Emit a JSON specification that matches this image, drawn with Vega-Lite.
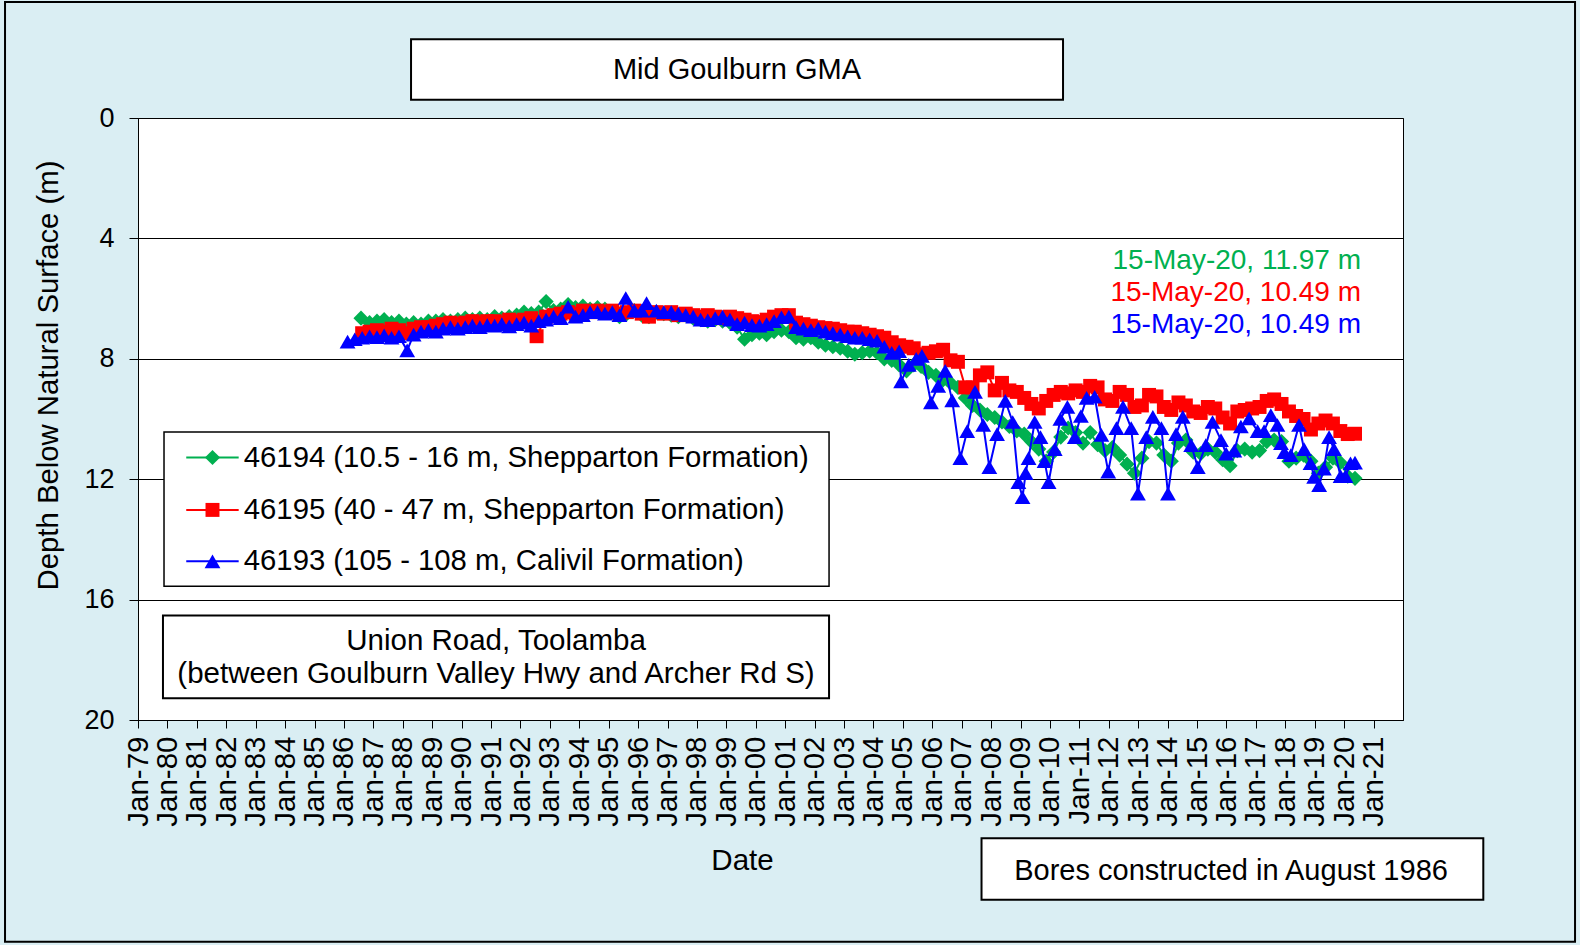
{
"$schema": "https://vega.github.io/schema/vega-lite/v6.json",
"width": 1265, "height": 602,
"autosize": {"type": "none"},
"padding": {"left": 138, "top": 118, "right": 177, "bottom": 225},
"background": "#DAEEF3",
"config": {"font": "Liberation Sans", "view": {"fill": "white", "stroke": "black", "strokeWidth": 1}, "text": {"color": "black"},
 "axisX": {"labelOverlap": false, "labelExpr": "utcFormat(datum.value, '%b-%y')", "labelAngle": -90, "labelFontSize": 29.5, "labelFlush": false, "labelBound": false, "tickCount": 60}},
"data": {"values": [{}]},
"datasets": {
"g": [
{"date":"1986-08-01","depth":6.65},{"date":"1986-11-15","depth":6.8},{"date":"1987-02-15","depth":6.75},{"date":"1987-05-15","depth":6.7},{"date":"1987-08-15","depth":6.8},{"date":"1987-11-15","depth":6.75},
{"date":"1988-02-15","depth":6.85},{"date":"1988-05-15","depth":6.8},{"date":"1988-08-15","depth":6.85},{"date":"1988-11-15","depth":6.75},
{"date":"1989-02-15","depth":6.75},{"date":"1989-05-15","depth":6.7},{"date":"1989-08-15","depth":6.75},{"date":"1989-11-15","depth":6.7},
{"date":"1990-02-15","depth":6.65},{"date":"1990-05-15","depth":6.7},{"date":"1990-08-15","depth":6.65},{"date":"1990-11-15","depth":6.7},
{"date":"1991-02-15","depth":6.6},{"date":"1991-05-15","depth":6.65},{"date":"1991-08-15","depth":6.6},{"date":"1991-11-15","depth":6.55},
{"date":"1992-02-15","depth":6.45},{"date":"1992-05-15","depth":6.5},{"date":"1992-08-15","depth":6.45},{"date":"1992-11-15","depth":6.1},
{"date":"1993-02-15","depth":6.4},{"date":"1993-05-15","depth":6.35},{"date":"1993-08-15","depth":6.2},{"date":"1993-11-15","depth":6.3},
{"date":"1994-02-15","depth":6.25},{"date":"1994-05-15","depth":6.35},{"date":"1994-08-15","depth":6.3},{"date":"1994-11-15","depth":6.35},
{"date":"1995-02-15","depth":6.45},{"date":"1995-05-15","depth":6.6},{"date":"1995-08-15","depth":6.5},{"date":"1995-11-15","depth":6.4},
{"date":"1996-02-15","depth":6.55},{"date":"1996-05-15","depth":6.6},{"date":"1996-08-15","depth":6.45},{"date":"1996-11-15","depth":6.5},
{"date":"1997-02-15","depth":6.55},{"date":"1997-05-15","depth":6.6},{"date":"1997-08-15","depth":6.55},{"date":"1997-11-15","depth":6.65},
{"date":"1998-02-15","depth":6.7},{"date":"1998-05-15","depth":6.75},{"date":"1998-08-15","depth":6.7},{"date":"1998-11-15","depth":6.75},
{"date":"1999-02-15","depth":6.8},{"date":"1999-05-15","depth":6.95},{"date":"1999-08-15","depth":7.35},{"date":"1999-11-15","depth":7.2},
{"date":"2000-02-15","depth":7.15},{"date":"2000-05-15","depth":7.2},{"date":"2000-08-15","depth":7.1},{"date":"2000-11-15","depth":7.05},
{"date":"2001-02-15","depth":7.1},{"date":"2001-05-15","depth":7.3},{"date":"2001-08-15","depth":7.35},{"date":"2001-11-15","depth":7.3},
{"date":"2002-02-15","depth":7.45},{"date":"2002-05-15","depth":7.55},{"date":"2002-08-15","depth":7.6},{"date":"2002-11-15","depth":7.65},
{"date":"2003-02-15","depth":7.75},{"date":"2003-05-15","depth":7.85},{"date":"2003-08-15","depth":7.8},{"date":"2003-11-15","depth":7.75},
{"date":"2004-02-15","depth":7.8},{"date":"2004-05-15","depth":8.0},{"date":"2004-08-15","depth":8.05},{"date":"2004-11-15","depth":8.2},
{"date":"2005-02-15","depth":8.4},{"date":"2005-05-15","depth":8.2},{"date":"2005-08-15","depth":8.25},{"date":"2005-11-15","depth":8.45},
{"date":"2006-02-15","depth":8.55},{"date":"2006-05-15","depth":8.7},{"date":"2006-08-15","depth":8.8},{"date":"2006-11-15","depth":8.95},
{"date":"2007-02-15","depth":9.3},{"date":"2007-05-15","depth":9.55},{"date":"2007-08-15","depth":9.7},{"date":"2007-11-15","depth":9.85},
{"date":"2008-02-15","depth":9.95},{"date":"2008-05-15","depth":10.1},{"date":"2008-08-15","depth":10.25},{"date":"2008-11-15","depth":10.4},
{"date":"2009-02-15","depth":10.5},{"date":"2009-05-15","depth":10.75},{"date":"2009-08-15","depth":11.0},{"date":"2009-11-15","depth":11.4},
{"date":"2010-02-15","depth":11.1},{"date":"2010-05-15","depth":10.6},{"date":"2010-08-15","depth":10.3},{"date":"2010-11-15","depth":10.45},
{"date":"2011-02-15","depth":10.8},{"date":"2011-05-15","depth":10.45},{"date":"2011-08-15","depth":10.85},{"date":"2011-11-15","depth":11.05},
{"date":"2012-02-15","depth":10.95},{"date":"2012-05-15","depth":11.2},{"date":"2012-08-15","depth":11.5},{"date":"2012-11-15","depth":11.8},
{"date":"2013-02-15","depth":11.3},{"date":"2013-05-15","depth":10.75},{"date":"2013-08-15","depth":10.8},{"date":"2013-11-15","depth":11.2},
{"date":"2014-02-15","depth":11.4},{"date":"2014-05-15","depth":10.8},{"date":"2014-08-15","depth":10.7},{"date":"2014-11-15","depth":11.1},
{"date":"2015-02-15","depth":11.15},{"date":"2015-05-15","depth":11.0},{"date":"2015-08-15","depth":11.1},{"date":"2015-11-15","depth":11.35},
{"date":"2016-02-15","depth":11.55},{"date":"2016-05-15","depth":11.05},{"date":"2016-08-15","depth":11.0},{"date":"2016-11-15","depth":11.1},
{"date":"2017-02-15","depth":11.05},{"date":"2017-05-15","depth":10.75},{"date":"2017-08-15","depth":10.7},{"date":"2017-11-15","depth":10.75},
{"date":"2018-02-15","depth":11.4},{"date":"2018-05-15","depth":11.3},{"date":"2018-08-15","depth":11.2},{"date":"2018-11-15","depth":11.4},
{"date":"2019-02-15","depth":11.8},{"date":"2019-05-15","depth":11.6},{"date":"2019-08-15","depth":11.3},{"date":"2019-11-15","depth":11.45},
{"date":"2020-02-15","depth":11.9},{"date":"2020-05-15","depth":11.97}
],
"r": [
{"date":"1986-08-15","depth":7.15},{"date":"1986-11-15","depth":7.1},{"date":"1987-02-15","depth":7.05},{"date":"1987-05-15","depth":7.1},{"date":"1987-08-15","depth":7.0},{"date":"1987-11-15","depth":7.05},
{"date":"1988-02-15","depth":7.15},{"date":"1988-05-15","depth":7.0},{"date":"1988-08-15","depth":6.95},{"date":"1988-11-15","depth":6.95},
{"date":"1989-02-15","depth":6.9},{"date":"1989-05-15","depth":6.85},{"date":"1989-08-15","depth":6.8},{"date":"1989-11-15","depth":6.85},
{"date":"1990-02-15","depth":6.8},{"date":"1990-05-15","depth":6.75},{"date":"1990-08-15","depth":6.8},{"date":"1990-11-15","depth":6.75},
{"date":"1991-02-15","depth":6.75},{"date":"1991-05-15","depth":6.8},{"date":"1991-08-15","depth":6.7},{"date":"1991-11-15","depth":6.75},
{"date":"1992-02-15","depth":6.7},{"date":"1992-05-15","depth":6.65},{"date":"1992-07-20","depth":7.25},{"date":"1992-11-15","depth":6.6},
{"date":"1993-02-15","depth":6.55},{"date":"1993-05-15","depth":6.5},{"date":"1993-08-15","depth":6.45},{"date":"1993-11-15","depth":6.5},
{"date":"1994-02-15","depth":6.4},{"date":"1994-05-15","depth":6.45},{"date":"1994-08-15","depth":6.4},{"date":"1994-11-15","depth":6.45},
{"date":"1995-02-15","depth":6.4},{"date":"1995-05-15","depth":6.5},{"date":"1995-08-15","depth":6.45},{"date":"1995-11-15","depth":6.4},
{"date":"1996-02-15","depth":6.5},{"date":"1996-05-15","depth":6.6},{"date":"1996-08-15","depth":6.45},{"date":"1996-11-15","depth":6.5},
{"date":"1997-02-15","depth":6.45},{"date":"1997-05-15","depth":6.55},{"date":"1997-08-15","depth":6.5},{"date":"1997-11-15","depth":6.55},
{"date":"1998-02-15","depth":6.6},{"date":"1998-05-15","depth":6.55},{"date":"1998-08-15","depth":6.6},{"date":"1998-11-15","depth":6.65},
{"date":"1999-02-15","depth":6.6},{"date":"1999-05-15","depth":6.65},{"date":"1999-08-15","depth":6.7},{"date":"1999-11-15","depth":6.75},
{"date":"2000-02-15","depth":6.78},{"date":"2000-05-15","depth":6.7},{"date":"2000-08-15","depth":6.6},{"date":"2000-11-15","depth":6.55},
{"date":"2001-02-15","depth":6.55},{"date":"2001-05-15","depth":6.8},{"date":"2001-08-15","depth":6.85},{"date":"2001-11-15","depth":6.9},
{"date":"2002-02-15","depth":6.95},{"date":"2002-05-15","depth":6.98},{"date":"2002-08-15","depth":7.0},{"date":"2002-11-15","depth":7.05},
{"date":"2003-02-15","depth":7.1},{"date":"2003-05-15","depth":7.1},{"date":"2003-08-15","depth":7.15},{"date":"2003-11-15","depth":7.2},
{"date":"2004-02-15","depth":7.25},{"date":"2004-05-15","depth":7.3},{"date":"2004-08-15","depth":7.45},{"date":"2004-11-15","depth":7.55},
{"date":"2005-02-15","depth":7.6},{"date":"2005-05-15","depth":7.65},{"date":"2005-08-15","depth":7.85},{"date":"2005-11-15","depth":7.8},
{"date":"2006-02-15","depth":7.75},{"date":"2006-05-15","depth":7.7},{"date":"2006-08-15","depth":8.05},{"date":"2006-11-15","depth":8.1},
{"date":"2007-02-15","depth":8.95},{"date":"2007-05-15","depth":8.95},{"date":"2007-08-15","depth":8.55},{"date":"2007-11-15","depth":8.45},
{"date":"2008-02-15","depth":9.05},{"date":"2008-05-15","depth":8.8},{"date":"2008-08-15","depth":9.05},{"date":"2008-11-15","depth":9.1},
{"date":"2009-02-15","depth":9.3},{"date":"2009-05-15","depth":9.5},{"date":"2009-08-15","depth":9.65},{"date":"2009-11-15","depth":9.4},
{"date":"2010-02-15","depth":9.2},{"date":"2010-05-15","depth":9.1},{"date":"2010-08-15","depth":9.15},{"date":"2010-11-15","depth":9.05},
{"date":"2011-02-15","depth":9.1},{"date":"2011-05-15","depth":8.9},{"date":"2011-08-15","depth":8.95},{"date":"2011-11-15","depth":9.35},
{"date":"2012-02-15","depth":9.4},{"date":"2012-05-15","depth":9.1},{"date":"2012-08-15","depth":9.2},{"date":"2012-11-15","depth":9.6},
{"date":"2013-02-15","depth":9.55},{"date":"2013-05-15","depth":9.2},{"date":"2013-08-15","depth":9.25},{"date":"2013-11-15","depth":9.6},
{"date":"2014-02-15","depth":9.7},{"date":"2014-05-15","depth":9.45},{"date":"2014-08-15","depth":9.55},{"date":"2014-11-15","depth":9.75},
{"date":"2015-02-15","depth":9.8},{"date":"2015-05-15","depth":9.6},{"date":"2015-08-15","depth":9.65},{"date":"2015-11-15","depth":9.95},
{"date":"2016-02-15","depth":10.15},{"date":"2016-05-15","depth":9.75},{"date":"2016-08-15","depth":9.7},{"date":"2016-11-15","depth":9.65},
{"date":"2017-02-15","depth":9.6},{"date":"2017-05-15","depth":9.4},{"date":"2017-08-15","depth":9.35},{"date":"2017-11-15","depth":9.5},
{"date":"2018-02-15","depth":9.75},{"date":"2018-05-15","depth":9.9},{"date":"2018-08-15","depth":10.0},{"date":"2018-11-15","depth":10.35},
{"date":"2019-02-15","depth":10.15},{"date":"2019-05-15","depth":10.05},{"date":"2019-08-15","depth":10.15},{"date":"2019-11-15","depth":10.4},
{"date":"2020-02-15","depth":10.5},{"date":"2020-05-15","depth":10.49}
],
"b": [
{"date":"1986-02-15","depth":7.43},{"date":"1986-05-15","depth":7.35},{"date":"1986-08-15","depth":7.3},{"date":"1986-11-15","depth":7.25},
{"date":"1987-02-15","depth":7.28},{"date":"1987-05-15","depth":7.22},{"date":"1987-08-15","depth":7.3},{"date":"1987-11-15","depth":7.25},
{"date":"1988-02-25","depth":7.72},{"date":"1988-05-15","depth":7.2},{"date":"1988-08-15","depth":7.1},{"date":"1988-11-15","depth":7.05},
{"date":"1989-02-15","depth":7.1},{"date":"1989-05-15","depth":7.0},{"date":"1989-08-15","depth":6.95},{"date":"1989-11-15","depth":7.0},
{"date":"1990-02-15","depth":6.95},{"date":"1990-05-15","depth":6.9},{"date":"1990-08-15","depth":6.95},{"date":"1990-11-15","depth":6.88},
{"date":"1991-02-15","depth":6.9},{"date":"1991-05-15","depth":6.85},{"date":"1991-08-15","depth":6.92},{"date":"1991-11-15","depth":6.85},
{"date":"1992-02-15","depth":6.8},{"date":"1992-05-15","depth":6.9},{"date":"1992-08-15","depth":6.75},{"date":"1992-11-15","depth":6.7},
{"date":"1993-02-15","depth":6.6},{"date":"1993-05-15","depth":6.65},{"date":"1993-08-15","depth":6.27},{"date":"1993-11-15","depth":6.6},
{"date":"1994-02-15","depth":6.55},{"date":"1994-05-15","depth":6.45},{"date":"1994-08-15","depth":6.45},{"date":"1994-11-15","depth":6.5},
{"date":"1995-02-15","depth":6.45},{"date":"1995-05-15","depth":6.55},{"date":"1995-08-01","depth":5.98},{"date":"1995-11-15","depth":6.4},
{"date":"1996-02-15","depth":6.4},{"date":"1996-04-15","depth":6.15},{"date":"1996-08-15","depth":6.4},{"date":"1996-11-15","depth":6.45},
{"date":"1997-02-15","depth":6.45},{"date":"1997-05-15","depth":6.5},{"date":"1997-08-15","depth":6.55},{"date":"1997-11-15","depth":6.6},
{"date":"1998-02-15","depth":6.7},{"date":"1998-05-15","depth":6.72},{"date":"1998-08-15","depth":6.65},{"date":"1998-11-15","depth":6.6},
{"date":"1999-02-15","depth":6.7},{"date":"1999-05-15","depth":6.85},{"date":"1999-08-15","depth":6.8},{"date":"1999-11-15","depth":6.88},
{"date":"2000-02-15","depth":6.9},{"date":"2000-05-15","depth":6.85},{"date":"2000-08-15","depth":6.75},{"date":"2000-11-15","depth":6.62},
{"date":"2001-02-15","depth":6.6},{"date":"2001-05-15","depth":6.95},{"date":"2001-08-15","depth":7.0},{"date":"2001-11-15","depth":7.05},
{"date":"2002-02-15","depth":7.0},{"date":"2002-05-15","depth":7.1},{"date":"2002-08-15","depth":7.15},{"date":"2002-11-15","depth":7.2},
{"date":"2003-02-15","depth":7.25},{"date":"2003-05-15","depth":7.3},{"date":"2003-08-15","depth":7.3},{"date":"2003-11-15","depth":7.35},
{"date":"2004-02-15","depth":7.4},{"date":"2004-05-15","depth":7.6},{"date":"2004-08-15","depth":7.8},{"date":"2004-11-15","depth":7.75},
{"date":"2004-12-10","depth":8.75},{"date":"2005-03-15","depth":8.2},{"date":"2005-06-15","depth":8.0},{"date":"2005-08-25","depth":7.9},
{"date":"2005-12-15","depth":9.45},{"date":"2006-03-15","depth":8.9},{"date":"2006-06-10","depth":8.4},{"date":"2006-09-05","depth":9.38},
{"date":"2006-12-15","depth":11.3},{"date":"2007-03-10","depth":10.4},{"date":"2007-06-15","depth":9.1},{"date":"2007-09-25","depth":10.2},
{"date":"2007-12-10","depth":11.6},{"date":"2008-03-15","depth":10.5},{"date":"2008-06-25","depth":9.4},{"date":"2008-09-25","depth":10.1},
{"date":"2008-12-05","depth":12.1},{"date":"2009-01-25","depth":12.6},{"date":"2009-03-05","depth":11.8},{"date":"2009-04-10","depth":11.3},
{"date":"2009-06-25","depth":10.1},{"date":"2009-09-05","depth":10.6},{"date":"2009-10-25","depth":11.4},{"date":"2009-12-15","depth":12.1},
{"date":"2010-03-01","depth":11.0},{"date":"2010-05-10","depth":10.0},{"date":"2010-08-05","depth":9.6},{"date":"2010-11-05","depth":10.6},
{"date":"2011-01-20","depth":9.9},{"date":"2011-04-01","depth":9.3},{"date":"2011-07-10","depth":9.26},{"date":"2011-10-01","depth":10.53},
{"date":"2011-12-25","depth":11.75},{"date":"2012-04-05","depth":10.3},{"date":"2012-06-25","depth":9.6},{"date":"2012-10-05","depth":10.3},
{"date":"2012-12-28","depth":12.48},{"date":"2013-04-10","depth":10.6},{"date":"2013-07-01","depth":9.93},{"date":"2013-10-15","depth":10.3},
{"date":"2014-01-05","depth":12.48},{"date":"2014-04-15","depth":10.5},{"date":"2014-07-08","depth":9.93},{"date":"2014-10-20","depth":10.87},
{"date":"2015-01-10","depth":11.6},{"date":"2015-04-20","depth":10.87},{"date":"2015-07-12","depth":10.1},{"date":"2015-10-25","depth":10.7},
{"date":"2015-12-28","depth":11.15},{"date":"2016-04-08","depth":11.05},{"date":"2016-06-28","depth":10.25},{"date":"2016-10-08","depth":9.98},
{"date":"2017-01-22","depth":10.4},{"date":"2017-04-12","depth":10.4},{"date":"2017-07-05","depth":9.87},{"date":"2017-09-25","depth":10.2},
{"date":"2017-11-08","depth":10.8},{"date":"2017-12-20","depth":11.1},{"date":"2018-03-10","depth":11.2},{"date":"2018-06-20","depth":10.2},
{"date":"2018-08-22","depth":11.0},{"date":"2018-11-10","depth":11.47},{"date":"2018-12-25","depth":11.92},{"date":"2019-02-25","depth":12.2},
{"date":"2019-04-25","depth":11.65},{"date":"2019-06-28","depth":10.6},{"date":"2019-08-28","depth":11.0},{"date":"2019-11-18","depth":11.9},
{"date":"2020-01-18","depth":11.9},{"date":"2020-03-20","depth":11.47},{"date":"2020-05-15","depth":11.45}
]
},
"layer": [
{"data": {"name": "g"}, "mark": {"type": "line", "color": "#00B050", "strokeWidth": 2},
 "encoding": {
  "x": {"field": "date", "type": "temporal",
   "scale": {"type": "utc", "domain": [{"year": 1979, "month": 1, "date": 1, "utc": true}, {"year": 2022, "month": 1, "date": 1, "utc": true}], "nice": false},
   "axis": {"values": [{"year":1979,"utc":true},{"year":1980,"utc":true},{"year":1981,"utc":true},{"year":1982,"utc":true},{"year":1983,"utc":true},{"year":1984,"utc":true},{"year":1985,"utc":true},{"year":1986,"utc":true},{"year":1987,"utc":true},{"year":1988,"utc":true},{"year":1989,"utc":true},{"year":1990,"utc":true},{"year":1991,"utc":true},{"year":1992,"utc":true},{"year":1993,"utc":true},{"year":1994,"utc":true},{"year":1995,"utc":true},{"year":1996,"utc":true},{"year":1997,"utc":true},{"year":1998,"utc":true},{"year":1999,"utc":true},{"year":2000,"utc":true},{"year":2001,"utc":true},{"year":2002,"utc":true},{"year":2003,"utc":true},{"year":2004,"utc":true},{"year":2005,"utc":true},{"year":2006,"utc":true},{"year":2007,"utc":true},{"year":2008,"utc":true},{"year":2009,"utc":true},{"year":2010,"utc":true},{"year":2011,"utc":true},{"year":2012,"utc":true},{"year":2013,"utc":true},{"year":2014,"utc":true},{"year":2015,"utc":true},{"year":2016,"utc":true},{"year":2017,"utc":true},{"year":2018,"utc":true},{"year":2019,"utc":true},{"year":2020,"utc":true},{"year":2021,"utc":true}],
    "tickCount": 60,
    "labelExpr": "utcFormat(datum.value, '%b-%y')", "labelAngle": -90, "labelFontSize": 29.5, "labelColor": "black", "labelPadding": 8,
    "labelOverlap": false, "labelFlush": false, "labelBound": false,
    "tickSize": 8, "tickColor": "black", "domainColor": "black", "grid": false,
    "title": "Date", "titleFontSize": 29.5, "titleFontWeight": "normal", "titleColor": "black",
    "titleX": 604, "titleY": 140, "titleAlign": "center", "titleBaseline": "middle"}},
  "y": {"field": "depth", "type": "quantitative",
   "scale": {"domain": [0, 20], "reverse": true, "nice": false, "zero": false},
   "axis": {"values": [0, 4, 8, 12, 16, 20], "grid": true, "gridColor": "black", "gridOpacity": 1, "gridWidth": 1,
    "tickSize": 9, "tickColor": "black", "domainColor": "black", "labelFontSize": 27, "labelColor": "black", "labelPadding": 15,
    "labelFlush": false, "labelOverlap": false,
    "title": "Depth Below Natural Surface (m)", "titleFontSize": 29.3, "titleFontWeight": "normal", "titleColor": "black",
    "titleX": -90, "titleY": 257, "titleAlign": "center", "titleBaseline": "middle", "titleAngle": -90}}}},
{"data": {"name": "g"}, "mark": {"type": "point", "shape": "diamond", "filled": true, "opacity": 1, "color": "#00B050", "size": 230},
 "encoding": {"x": {"field": "date", "type": "temporal"}, "y": {"field": "depth", "type": "quantitative"}}},
{"data": {"name": "r"}, "mark": {"type": "line", "color": "#FF0000", "strokeWidth": 2},
 "encoding": {"x": {"field": "date", "type": "temporal"}, "y": {"field": "depth", "type": "quantitative"}}},
{"data": {"name": "r"}, "mark": {"type": "point", "shape": "square", "filled": true, "opacity": 1, "color": "#FF0000", "size": 195},
 "encoding": {"x": {"field": "date", "type": "temporal"}, "y": {"field": "depth", "type": "quantitative"}}},
{"data": {"name": "b"}, "mark": {"type": "line", "color": "#0000FF", "strokeWidth": 2},
 "encoding": {"x": {"field": "date", "type": "temporal"}, "y": {"field": "depth", "type": "quantitative"}}},
{"data": {"name": "b"}, "mark": {"type": "point", "shape": "triangle-up", "filled": true, "opacity": 1, "color": "#0000FF", "size": 250},
 "encoding": {"x": {"field": "date", "type": "temporal"}, "y": {"field": "depth", "type": "quantitative"}}},
{"mark": {"type": "rect", "fill": "transparent", "stroke": "black", "strokeWidth": 2},
 "encoding": {"x": {"datum": {"year": 1974, "month": 6, "date": 25, "utc": true}, "type": "temporal"},
  "x2": {"datum": {"year": 2027, "month": 11, "date": 7, "utc": true}},
  "y": {"datum": -3.85, "type": "quantitative"}, "y2": {"datum": 27.37}}},
{"mark": {"type": "rect", "fill": "white", "stroke": "black", "strokeWidth": 2},
 "encoding": {"x": {"datum": {"year": 1988, "month": 4, "date": 13, "utc": true}, "type": "temporal"},
  "x2": {"datum": {"year": 2010, "month": 6, "date": 12, "utc": true}},
  "y": {"datum": -2.615, "type": "quantitative"}, "y2": {"datum": -0.605}}},
{"mark": {"type": "text", "text": "Mid Goulburn  GMA", "fontSize": 29, "align": "center", "baseline": "middle"},
 "encoding": {"x": {"datum": {"year": 1999, "month": 5, "date": 13, "utc": true}, "type": "temporal"},
  "y": {"datum": -1.61, "type": "quantitative"}}},
{"mark": {"type": "text", "text": "15-May-20, 11.97 m", "fontSize": 28, "align": "right", "baseline": "middle", "color": "#00B050"},
 "encoding": {"x": {"datum": {"year": 2020, "month": 7, "date": 29, "utc": true}, "type": "temporal"},
  "y": {"datum": 4.75, "type": "quantitative"}}},
{"mark": {"type": "text", "text": "15-May-20, 10.49 m", "fontSize": 28, "align": "right", "baseline": "middle", "color": "#FF0000"},
 "encoding": {"x": {"datum": {"year": 2020, "month": 7, "date": 29, "utc": true}, "type": "temporal"},
  "y": {"datum": 5.82, "type": "quantitative"}}},
{"mark": {"type": "text", "text": "15-May-20, 10.49 m", "fontSize": 28, "align": "right", "baseline": "middle", "color": "#0000FF"},
 "encoding": {"x": {"datum": {"year": 2020, "month": 7, "date": 29, "utc": true}, "type": "temporal"},
  "y": {"datum": 6.89, "type": "quantitative"}}},
{"mark": {"type": "rect", "fill": "white", "stroke": "black", "strokeWidth": 1.5},
 "encoding": {"x": {"datum": {"year": 1979, "month": 11, "date": 20, "utc": true}, "type": "temporal"},
  "x2": {"datum": {"year": 2002, "month": 6, "date": 29, "utc": true}},
  "y": {"datum": 10.43, "type": "quantitative"}, "y2": {"datum": 15.56}}},
{"mark": {"type": "rule", "color": "#00B050", "strokeWidth": 2},
 "encoding": {"x": {"datum": {"year": 1980, "month": 8, "date": 22, "utc": true}, "type": "temporal"},
  "x2": {"datum": {"year": 1982, "month": 6, "date": 4, "utc": true}}, "y": {"datum": 11.28, "type": "quantitative"}}},
{"mark": {"type": "rule", "color": "#FF0000", "strokeWidth": 2},
 "encoding": {"x": {"datum": {"year": 1980, "month": 8, "date": 22, "utc": true}, "type": "temporal"},
  "x2": {"datum": {"year": 1982, "month": 6, "date": 4, "utc": true}}, "y": {"datum": 13.02, "type": "quantitative"}}},
{"mark": {"type": "rule", "color": "#0000FF", "strokeWidth": 2},
 "encoding": {"x": {"datum": {"year": 1980, "month": 8, "date": 22, "utc": true}, "type": "temporal"},
  "x2": {"datum": {"year": 1982, "month": 6, "date": 4, "utc": true}}, "y": {"datum": 14.73, "type": "quantitative"}}},
{"mark": {"type": "point", "shape": "diamond", "filled": true, "opacity": 1, "color": "#00B050", "size": 230},
 "encoding": {"x": {"datum": {"year": 1981, "month": 7, "date": 14, "utc": true}, "type": "temporal"},
  "y": {"datum": 11.28, "type": "quantitative"}}},
{"mark": {"type": "point", "shape": "square", "filled": true, "opacity": 1, "color": "#FF0000", "size": 195},
 "encoding": {"x": {"datum": {"year": 1981, "month": 7, "date": 14, "utc": true}, "type": "temporal"},
  "y": {"datum": 13.02, "type": "quantitative"}}},
{"mark": {"type": "point", "shape": "triangle-up", "filled": true, "opacity": 1, "color": "#0000FF", "size": 250},
 "encoding": {"x": {"datum": {"year": 1981, "month": 7, "date": 14, "utc": true}, "type": "temporal"},
  "y": {"datum": 14.73, "type": "quantitative"}}},
{"mark": {"type": "text", "text": "46194 (10.5 - 16 m, Shepparton Formation)", "fontSize": 29.3, "align": "left", "baseline": "middle"},
 "encoding": {"x": {"datum": {"year": 1982, "month": 8, "date": 6, "utc": true}, "type": "temporal"},
  "y": {"datum": 11.28, "type": "quantitative"}}},
{"mark": {"type": "text", "text": "46195 (40 - 47 m, Shepparton Formation)", "fontSize": 29.3, "align": "left", "baseline": "middle"},
 "encoding": {"x": {"datum": {"year": 1982, "month": 8, "date": 6, "utc": true}, "type": "temporal"},
  "y": {"datum": 13.02, "type": "quantitative"}}},
{"mark": {"type": "text", "text": "46193 (105 - 108 m, Calivil Formation)", "fontSize": 29.3, "align": "left", "baseline": "middle"},
 "encoding": {"x": {"datum": {"year": 1982, "month": 8, "date": 6, "utc": true}, "type": "temporal"},
  "y": {"datum": 14.73, "type": "quantitative"}}},
{"mark": {"type": "rect", "fill": "white", "stroke": "black", "strokeWidth": 2},
 "encoding": {"x": {"datum": {"year": 1979, "month": 11, "date": 7, "utc": true}, "type": "temporal"},
  "x2": {"datum": {"year": 2002, "month": 6, "date": 29, "utc": true}},
  "y": {"datum": 16.53, "type": "quantitative"}, "y2": {"datum": 19.28}}},
{"mark": {"type": "text", "text": "Union Road, Toolamba", "fontSize": 29.5, "align": "center", "baseline": "middle"},
 "encoding": {"x": {"datum": {"year": 1991, "month": 3, "date": 4, "utc": true}, "type": "temporal"},
  "y": {"datum": 17.37, "type": "quantitative"}}},
{"mark": {"type": "text", "text": "(between Goulburn Valley Hwy and Archer Rd S)", "fontSize": 29.5, "align": "center", "baseline": "middle"},
 "encoding": {"x": {"datum": {"year": 1991, "month": 3, "date": 4, "utc": true}, "type": "temporal"},
  "y": {"datum": 18.47, "type": "quantitative"}}},
{"mark": {"type": "rect", "fill": "white", "stroke": "black", "strokeWidth": 2},
 "encoding": {"x": {"datum": {"year": 2007, "month": 9, "date": 4, "utc": true}, "type": "temporal"},
  "x2": {"datum": {"year": 2024, "month": 9, "date": 24, "utc": true}},
  "y": {"datum": 23.93, "type": "quantitative"}, "y2": {"datum": 25.97}}},
{"mark": {"type": "text", "text": "Bores constructed in August  1986", "fontSize": 29, "align": "center", "baseline": "middle"},
 "encoding": {"x": {"datum": {"year": 2016, "month": 2, "date": 27, "utc": true}, "type": "temporal"},
  "y": {"datum": 25.0, "type": "quantitative"}}}
]
}
